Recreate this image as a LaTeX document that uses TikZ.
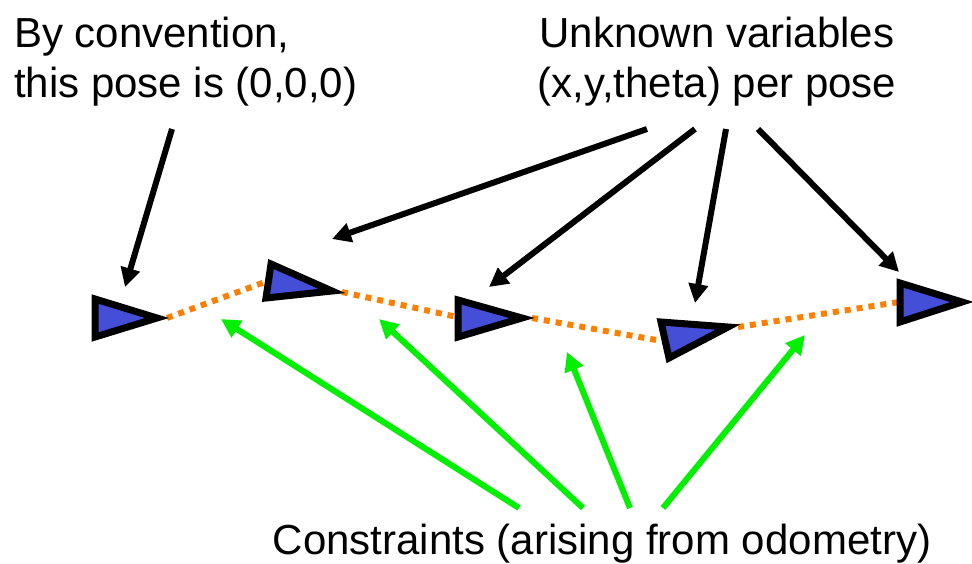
\documentclass[tikz,border=0pt]{standalone}
\usepackage{fontspec}
\setmainfont{Liberation Sans}
\usetikzlibrary{arrows.meta}
\definecolor{posefill}{RGB}{68,78,214}
\definecolor{odoorange}{RGB}{255,128,0}
\definecolor{constrgreen}{RGB}{0,240,0}
\tikzset{
  pose/.style={draw=black,fill=posefill,line width=7pt,line join=miter},
  odo/.style={draw=odoorange,line width=6pt,dash pattern=on 6pt off 6pt},
  blackarrow/.style={draw=black,line width=6pt,-{Triangle[length=19pt,width=19pt]}},
  greenarrow/.style={draw=constrgreen,line width=6pt,-{Triangle[length=19pt,width=19pt]}},
  label/.style={inner sep=0pt,font=\fontsize{42}{50}\selectfont}
}
\begin{document}
\begin{tikzpicture}[x=1pt,y=-1pt]
\useasboundingbox (0,0) rectangle (972,563);
% pose vertices (centre line)
\coordinate (p1a) at (95,299);  \coordinate (p1b) at (95,337);  \coordinate (p1t) at (157,318);
\coordinate (p2a) at (271,264); \coordinate (p2b) at (266,298); \coordinate (p2t) at (332,291);
\coordinate (p3a) at (458,300); \coordinate (p3b) at (458,337); \coordinate (p3t) at (522,318);
\coordinate (p4a) at (661,322); \coordinate (p4b) at (669,358); \coordinate (p4t) at (728,327);
\coordinate (p5a) at (900,283); \coordinate (p5b) at (900,322); \coordinate (p5t) at (962,302);
% odometry links (outer tip to next pose's back)
\coordinate (o1) at (167,318); \coordinate (i2) at (265,282);
\coordinate (o2) at (342,292); \coordinate (i3) at (457,317);
\coordinate (o3) at (532,318); \coordinate (i4) at (662,341);
\coordinate (o4) at (738,327); \coordinate (i5) at (899,302);
\draw[odo] (o1) -- (i2);
\draw[odo] (o2) -- (i3);
\draw[odo] (o3) -- (i4);
\draw[odo] (o4) -- (i5);
% poses
\draw[pose] (p1a) -- (p1t) -- (p1b) -- cycle;
\draw[pose] (p2a) -- (p2t) -- (p2b) -- cycle;
\draw[pose] (p3a) -- (p3t) -- (p3b) -- cycle;
\draw[pose] (p4a) -- (p4t) -- (p4b) -- cycle;
\draw[pose] (p5a) -- (p5t) -- (p5b) -- cycle;
% labels
\node[label,anchor=base west,align=left] (conv) at (14,97) {By convention,\\this pose is (0,0,0)};
\node[label,anchor=base,align=center] (unk) at (717,97) {Unknown variables\\(x,y,theta) per pose};
\node[label,anchor=base] (cons) at (602,554) {Constraints (arising from odometry)};
% black arrows
\coordinate (s0) at (172,129); \coordinate (e0) at (125,287);
\coordinate (s1) at (647,129); \coordinate (e1) at (332,239);
\coordinate (s2) at (695,129); \coordinate (e2) at (489,287);
\coordinate (s3) at (726,129); \coordinate (e3) at (695,303);
\coordinate (s4) at (758,129); \coordinate (e4) at (899,272);
\draw[blackarrow] (s0) -- (e0);
\draw[blackarrow] (s1) -- (e1);
\draw[blackarrow] (s2) -- (e2);
\draw[blackarrow] (s3) -- (e3);
\draw[blackarrow] (s4) -- (e4);
% green arrows
\coordinate (g1) at (519,508); \coordinate (h1) at (221,319);
\coordinate (g2) at (583,508); \coordinate (h2) at (379,319);
\coordinate (g3) at (630,508); \coordinate (h3) at (567,352);
\coordinate (g4) at (663,508); \coordinate (h4) at (805,335);
\draw[greenarrow] (g1) -- (h1);
\draw[greenarrow] (g2) -- (h2);
\draw[greenarrow] (g3) -- (h3);
\draw[greenarrow] (g4) -- (h4);
\end{tikzpicture}
\end{document}
